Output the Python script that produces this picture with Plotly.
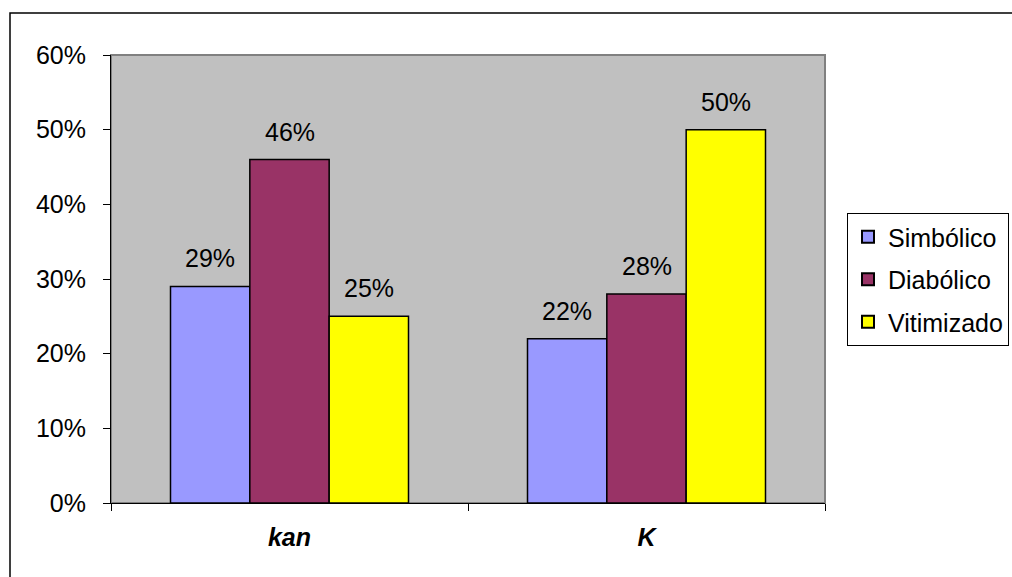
import plotly.graph_objects as go

categories = ["kan", "K"]
series_names = ["Simbólico", "Diabólico", "Vitimizado"]
series_values = [
    [0.29, 0.22],
    [0.46, 0.28],
    [0.25, 0.50],
]
series_colors = ["#9999FF", "#993366", "#FFFF00"]
y_tick_values = [0, 0.1, 0.2, 0.3, 0.4, 0.5, 0.6]
y_tick_labels = ["0%", "10%", "20%", "30%", "40%", "50%", "60%"]

W, H = 1012, 577
L, R, T, B = 111, 187, 55, 74
pw, ph = W - L - R, H - T - B
BARGAP = 1 / 3
bar_px = pw / len(categories) * (1 - BARGAP) / len(series_names)

font_family = "Liberation Sans, Arial, sans-serif"
FS = 25

fig = go.Figure()
for i, (name, vals, color) in enumerate(zip(series_names, series_values, series_colors)):
    fig.add_trace(go.Bar(
        name=name,
        legendgroup=name,
        x=categories,
        y=vals,
        marker=dict(color=color, line=dict(color="black", width=1.5)),
        cliponaxis=False,
    ))
    # value labels above each bar
    for cat, v in zip(categories, vals):
        fig.add_annotation(
            x=cat, y=v, xref="x", yref="y",
            text=f"{round(v * 100)}%",
            showarrow=False, yanchor="bottom",
            xshift=(i - 1) * bar_px, yshift=12,
            font=dict(size=FS, color="black", family=font_family),
        )

# outer chart frame (extends past the right and bottom edges)
fig.add_shape(type="rect", xref="paper", yref="paper",
              x0=(10 - L) / pw, x1=(W + 5 - L) / pw,
              y0=-(B + 5) / ph, y1=(H - B - 13) / ph,
              line=dict(color="black", width=1.5), layer="below")
# grey border around the plot area
fig.add_shape(type="rect", xref="paper", yref="paper",
              x0=0, x1=1, y0=0, y1=1,
              line=dict(color="#808080", width=2), layer="below")

fig.update_layout(
    width=W, height=H,
    margin=dict(l=L, r=R, t=T, b=B, autoexpand=False),
    paper_bgcolor="white",
    plot_bgcolor="#C0C0C0",
    barmode="group",
    bargap=BARGAP,
    bargroupgap=0,
    font=dict(family=font_family, size=FS, color="black"),
    showlegend=True,
    legend=dict(
        xref="container", yref="container",
        x=847 / W, xanchor="left",
        y=1 - 213 / H, yanchor="top",
        bordercolor="black", borderwidth=1,
        bgcolor="white",
        font=dict(size=FS, family=font_family, color="black"),
        tracegroupgap=7, itemsizing="constant",
    ),
    xaxis=dict(
        type="category",
        showgrid=False,
        showline=True, linecolor="black", linewidth=1,
        ticks="outside", tickson="boundaries", ticklen=7, tickcolor="black",
        tickfont=dict(size=FS, family=font_family, weight="bold", style="italic"),
        ticklabelstandoff=12,
    ),
    yaxis=dict(
        range=[0, 0.6],
        tickvals=y_tick_values, ticktext=y_tick_labels,
        showgrid=False, zeroline=False,
        showline=True, linecolor="black", linewidth=1,
        ticks="outside", ticklen=7, tickcolor="black",
        tickfont=dict(size=FS, family=font_family),
        ticklabelstandoff=12,
    ),
)

fig.write_html("out.html")
